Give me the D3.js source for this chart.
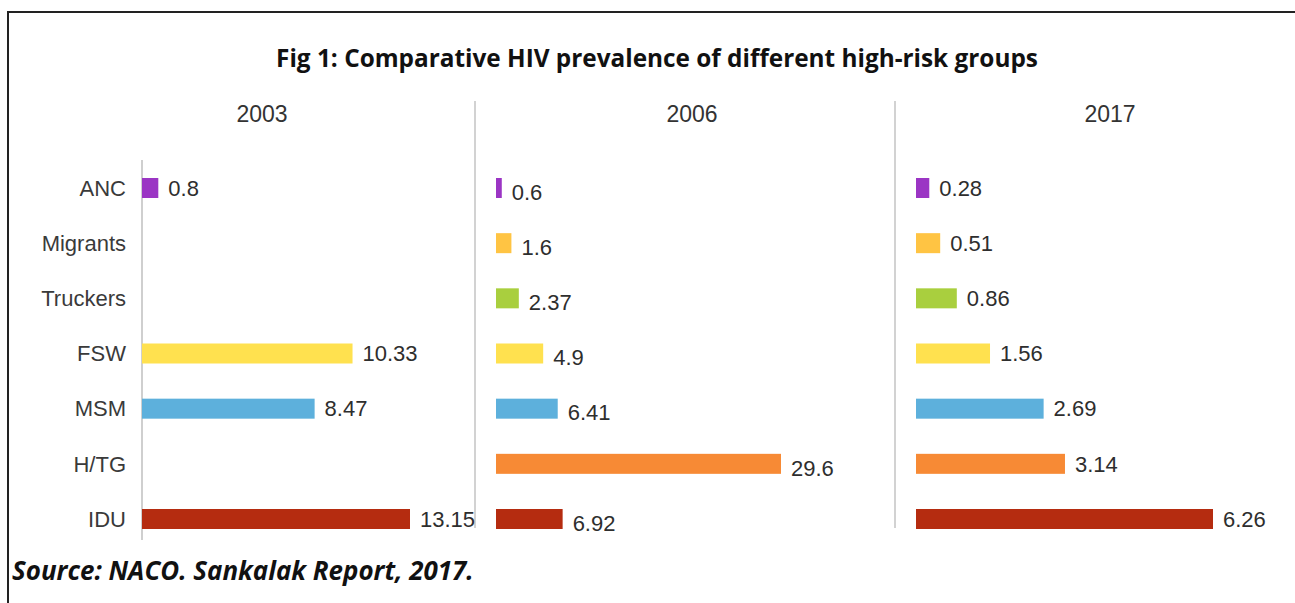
<!DOCTYPE html>
<html>
<head>
<meta charset="utf-8">
<script src="https://cdn.jsdelivr.net/npm/d3@7"></script>
<style>
  body { margin: 0; background: #fff; }
  svg { display: block; }
</style>
</head>
<body>
<div id="chart"></div>
<script>
// data
var categories = ["ANC", "Migrants", "Truckers", "FSW", "MSM", "H/TG", "IDU"];
var years = ["2003", "2006", "2017"];
var values2003 = [0.8, null, null, 10.33, 8.47, null, 13.15];
var values2006 = [0.6, 1.6, 2.37, 4.9, 6.41, 29.6, 6.92];
var values2017 = [0.28, 0.51, 0.86, 1.56, 2.69, 3.14, 6.26];
var barColors = ["#9b35c4", "#ffc443", "#a9cf3e", "#ffe14f", "#5db0dc", "#f78a35", "#b52c10"];

var title = "Fig 1: Comparative HIV prevalence of different high-risk groups";
var source = "Source: NACO. Sankalak Report, 2017.";

var width = 1295, height = 603;

var svg = d3.select("#chart").append("svg")
    .attr("width", width)
    .attr("height", height);

// frame (only top and left edges fall inside the picture)
svg.append("path")
    .attr("d", "M8," + height + "V12H" + width)
    .attr("fill", "none")
    .attr("stroke", "#222")
    .attr("stroke-width", 2);

// fit a text to a given width
function fitText(sel, target, startSize) {
    sel.style("font-size", startSize + "px");
    var w = sel.node().getComputedTextLength();
    sel.style("font-size", (startSize * target / w).toFixed(2) + "px");
}

var t = svg.append("text")
    .attr("x", 657)
    .attr("y", 67)
    .attr("text-anchor", "middle")
    .attr("font-family", "'Open Sans', 'Noto Sans', sans-serif")
    .attr("font-weight", "bold")
    .attr("fill", "#111")
    .text(title);
fitText(t, 762, 26);

var s = svg.append("text")
    .attr("x", 12)
    .attr("y", 580)
    .attr("font-family", "'Open Sans', 'Noto Sans', sans-serif")
    .attr("font-weight", "bold")
    .attr("font-style", "italic")
    .attr("fill", "#111")
    .text(source);
fitText(s, 462, 24);

// shared vertical scale for the rows
var y = d3.scalePoint()
    .domain(categories)
    .range([188, 519]);
var barH = 20;

var panels = [
    { year: years[0], values: values2003, x0: 142, len: 268, head: 262, shift: 0 },
    { year: years[1], values: values2006, x0: 496, len: 285, head: 692, shift: 4 },
    { year: years[2], values: values2017, x0: 916, len: 297, head: 1110, shift: 0 }
];

// separators
svg.append("line")
    .attr("x1", 142).attr("x2", 142)
    .attr("y1", 160).attr("y2", 540)
    .attr("stroke", "#cfcfcf").attr("stroke-width", 2);
[475, 895].forEach(function (sx) {
    svg.append("line")
        .attr("x1", sx).attr("x2", sx)
        .attr("y1", 101).attr("y2", 528)
        .attr("stroke", "#d2d2d2").attr("stroke-width", 2);
});

// category labels
svg.append("g")
    .selectAll("text")
    .data(categories)
    .enter().append("text")
    .attr("x", 126)
    .attr("y", function (d) { return y(d); })
    .attr("dy", "0.35em")
    .attr("text-anchor", "end")
    .attr("font-family", "'Liberation Sans', Arial, sans-serif")
    .attr("font-size", "22px")
    .attr("fill", "#3a3a3a")
    .text(function (d) { return d; });

panels.forEach(function (p) {
    var rows = categories.map(function (c, i) {
        return { cat: c, value: p.values[i], color: barColors[i] };
    }).filter(function (d) { return d.value != null; });

    var x = d3.scaleLinear()
        .domain([0, d3.max(rows, function (d) { return d.value; })])
        .range([0, p.len]);

    var g = svg.append("g")
        .attr("transform", "translate(" + p.x0 + ",0)");

    svg.append("text")
        .attr("x", p.head)
        .attr("y", 122)
        .attr("text-anchor", "middle")
        .attr("font-family", "'Liberation Sans', Arial, sans-serif")
        .attr("font-size", "23px")
        .attr("fill", "#333")
        .text(p.year);

    g.selectAll("rect")
        .data(rows)
        .enter().append("rect")
        .attr("x", 0)
        .attr("y", function (d) { return y(d.cat) - barH / 2; })
        .attr("width", function (d) { return x(d.value); })
        .attr("height", barH)
        .attr("fill", function (d) { return d.color; });

    g.selectAll("text.val")
        .data(rows)
        .enter().append("text")
        .attr("class", "val")
        .attr("x", function (d) { return x(d.value) + 10; })
        .attr("y", function (d) { return y(d.cat) + p.shift; })
        .attr("dy", "0.35em")
        .attr("font-family", "'Liberation Sans', Arial, sans-serif")
        .attr("font-size", "22px")
        .attr("fill", "#2e2e2e")
        .text(function (d) { return String(d.value); });
});
</script>
</body>
</html>
